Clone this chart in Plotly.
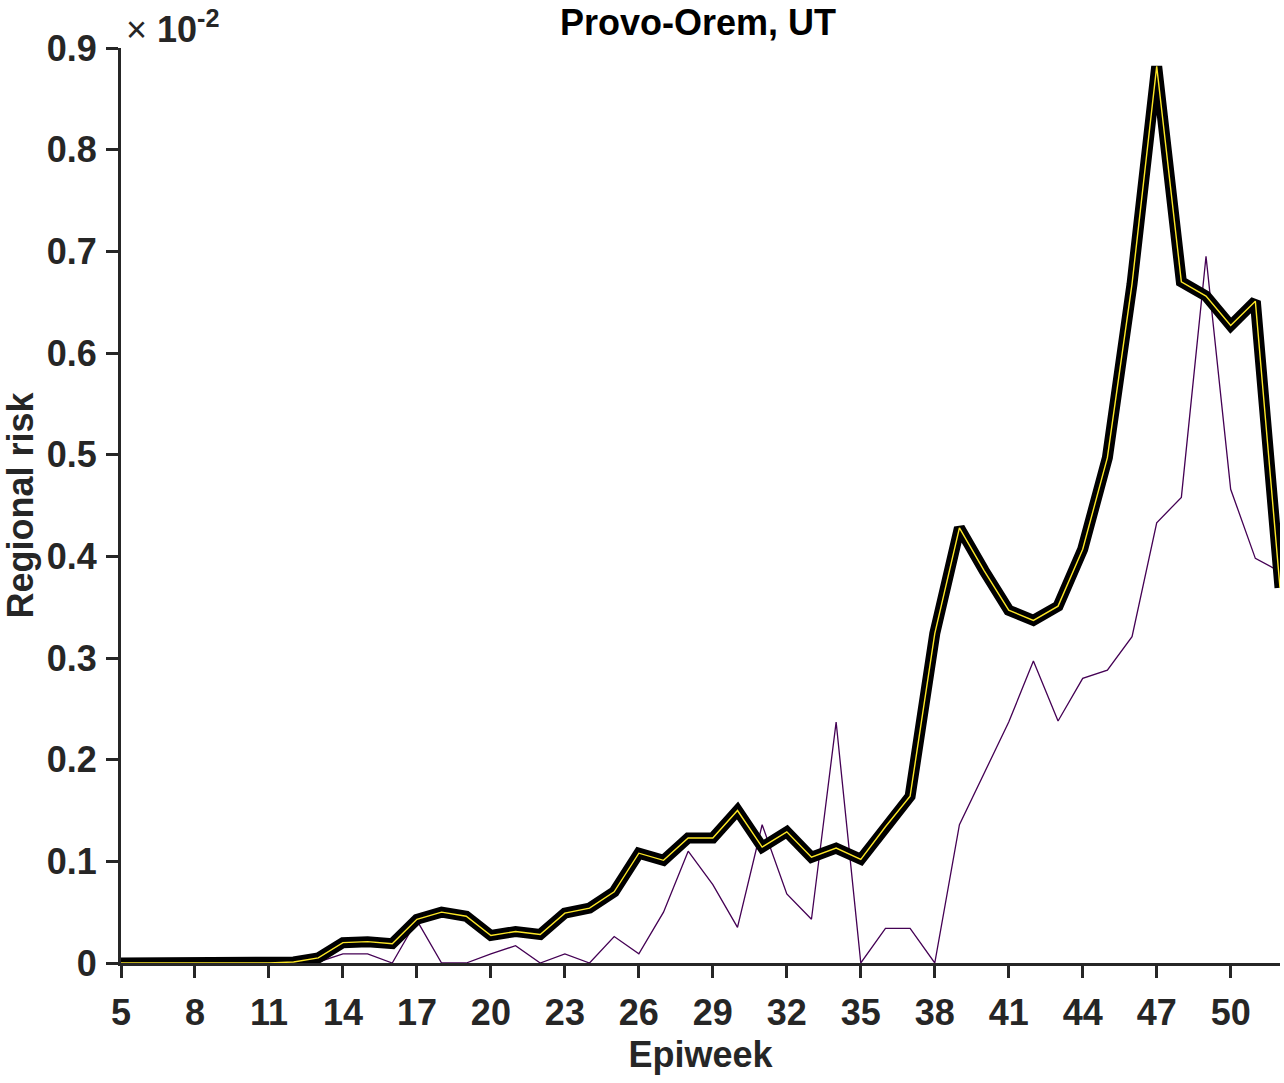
import plotly.graph_objects as go

weeks = list(range(5, 53))
total_risk = [0, 0, 0, 0, 0, 0, 0, 0.001, 0.005, 0.020, 0.021, 0.019, 0.043, 0.050,
              0.046, 0.027, 0.031, 0.028, 0.049, 0.054, 0.070, 0.108, 0.101, 0.123,
              0.123, 0.150, 0.114, 0.129, 0.104, 0.113, 0.102, 0.134, 0.164, 0.324,
              0.428, 0.386, 0.347, 0.337, 0.351, 0.407, 0.497, 0.668, 0.882, 0.670,
              0.656, 0.627, 0.651, 0.369]
weekly_risk = [0, 0, 0, 0, 0, 0, 0, 0, 0.001, 0.009, 0.009, 0, 0.042, 0,
               0, 0.009, 0.017, 0, 0.009, 0, 0.026, 0.009, 0.050, 0.110,
               0.077, 0.035, 0.136, 0.068, 0.043, 0.237, 0, 0.034, 0.034, 0,
               0.136, 0.187, 0.237, 0.297, 0.238, 0.280, 0.288, 0.321, 0.433, 0.458,
               0.695, 0.466, 0.398, 0.385]
x_ticks = list(range(5, 51, 3))
y_ticks = [0, 0.1, 0.2, 0.3, 0.4, 0.5, 0.6, 0.7, 0.8, 0.9]
y_tick_text = ["0", "0.1", "0.2", "0.3", "0.4", "0.5", "0.6", "0.7", "0.8", "0.9"]

AX = "#262626"
FONT = "Liberation Sans, Arial, sans-serif"
FS = 36

fig = go.Figure()
fig.add_trace(go.Scatter(x=weeks, y=weekly_risk, mode="lines",
                         line=dict(color="#440154", width=1.3), cliponaxis=False,
                         showlegend=False))
fig.add_trace(go.Scatter(x=weeks, y=total_risk, mode="lines",
                         line=dict(color="black", width=11), cliponaxis=False,
                         showlegend=False))
fig.add_trace(go.Scatter(x=weeks, y=total_risk, mode="lines",
                         line=dict(color="#FDE725", width=1.4), cliponaxis=False,
                         showlegend=False))

fig.update_layout(
    width=1284, height=1083,
    margin=dict(l=121, r=4, t=48, b=120),
    paper_bgcolor="white", plot_bgcolor="white",
    font=dict(family=FONT, size=FS, color=AX, weight="bold"),
    title=dict(text="Provo-Orem, UT", x=0.5436, xanchor="center", y=0.9797, yanchor="middle",
               font=dict(family=FONT, size=FS, color="black", weight="bold")),
    xaxis=dict(range=[5, 52], tickmode="array", tickvals=x_ticks, automargin=False,
               showgrid=False, zeroline=False, showline=True, linecolor=AX, linewidth=3,
               ticks="outside", ticklen=12, tickwidth=3, tickcolor=AX,
               ticklabelstandoff=4, layer="below traces",
               title=dict(text="Epiweek", standoff=10,
                          font=dict(family=FONT, size=FS, color=AX, weight="bold"))),
    yaxis=dict(range=[0, 0.9], tickmode="array", tickvals=y_ticks, ticktext=y_tick_text,
               automargin=False,
               showgrid=False, zeroline=False, showline=True, linecolor=AX, linewidth=3,
               ticks="outside", ticklen=12, tickwidth=3, tickcolor=AX,
               ticklabelstandoff=2, layer="below traces",
               title=dict(text="Regional risk", standoff=30,
                          font=dict(family=FONT, size=FS, color=AX, weight="bold"))),
)

fig.add_annotation(text='<span style="font-weight:normal">×</span> 10<sup>-2</sup>',
                   xref="paper", yref="paper",
                   x=0.0, y=1.0, xanchor="left", yanchor="bottom", xshift=3, yshift=-4,
                   showarrow=False,
                   font=dict(family=FONT, size=FS, color=AX, weight="bold"))

fig.write_html("out.html", post_script="document.body.style.margin='0px';",
               config={"displayModeBar": False})
